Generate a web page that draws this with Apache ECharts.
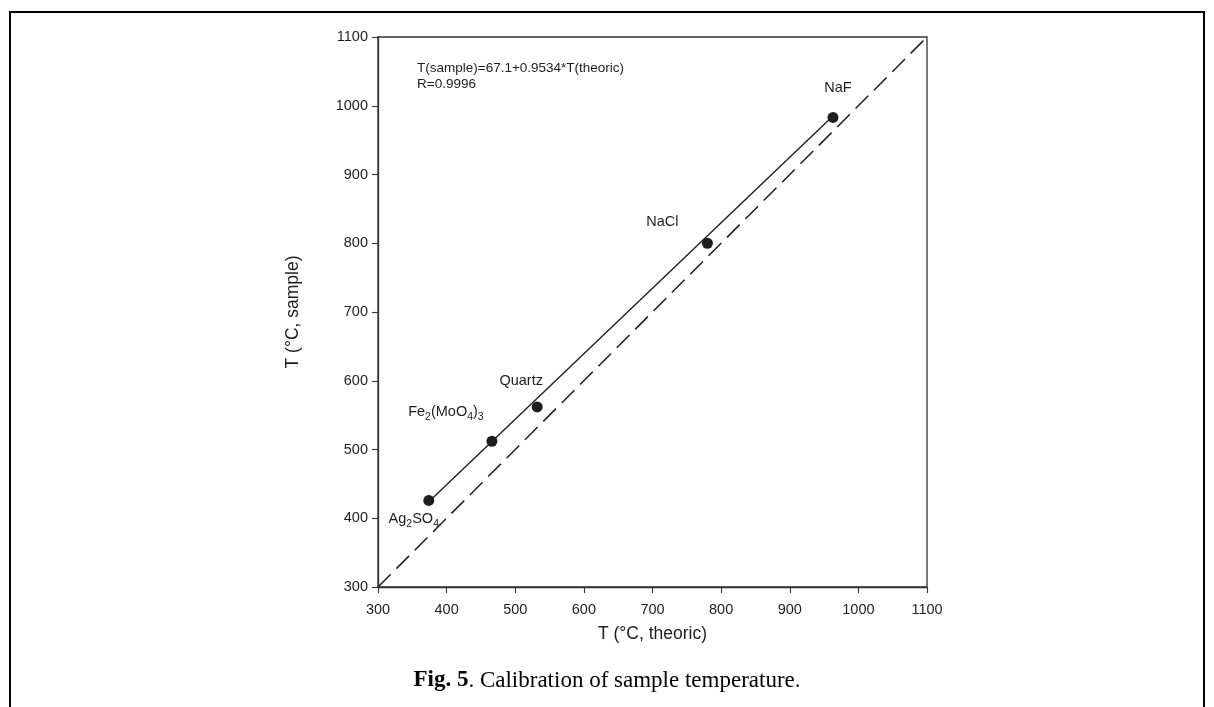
<!DOCTYPE html>
<html>
<head>
<meta charset="utf-8">
<script src="https://cdn.jsdelivr.net/npm/echarts@6/dist/echarts.min.js"></script>
<style>
html,body{margin:0;padding:0;background:#fff;}
#main{width:1214px;height:707px;}
</style>
</head>
<body>
<div id="main"></div>
<script>
// Data
const compounds = ['Ag2SO4', 'Fe2(MoO4)3', 'Quartz', 'NaCl', 'NaF'];
const theoric = [374, 466, 532, 780, 963];
const sample = [426, 512, 562, 800, 983];
const fitX = [374, 963];
const fitY = [424, 985];
const identityX = [300, 1100];
const identityY = [300, 1100];
const xTicks = [300, 400, 500, 600, 700, 800, 900, 1000, 1100];
const yTicks = [300, 400, 500, 600, 700, 800, 900, 1000, 1100];
const equationText = ['T(sample)=67.1+0.9534*T(theoric)', 'R=0.9996'];

const SANS = '"Liberation Sans", Arial, sans-serif';
const SERIF = '"Liberation Serif", "Times New Roman", serif';
const INK = '#1e1e1e';

const labelRich = {
  n: {fontFamily: SANS, fontSize: 14.5, color: INK},
  s: {fontFamily: SANS, fontSize: 10.5, color: INK, verticalAlign: 'bottom', padding: [9, 0, 0, 0]}
};
const labelFormats = {
  'Ag2SO4': '{n|Ag}{s|2}{n|SO}{s|4}',
  'Fe2(MoO4)3': '{n|Fe}{s|2}{n|(MoO}{s|4}{n|)}{s|3}',
  'Quartz': '{n|Quartz}',
  'NaCl': '{n|NaCl}',
  'NaF': '{n|NaF}'
};
const labelOffsets = {
  'Ag2SO4': [-15, 19],
  'Fe2(MoO4)3': [-46, -29],
  'Quartz': [-16, -26],
  'NaCl': [-45, -21],
  'NaF': [5, -29]
};

const chart = echarts.init(document.getElementById('main'));
const axisCommon = {
  type: 'value', min: 300, max: 1100, interval: 100,
  axisLine: {show: true, lineStyle: {color: '#333', width: 1.3}},
  axisTick: {show: true, inside: false, length: 6, lineStyle: {color: '#333', width: 1.1}},
  splitLine: {show: false},
  axisLabel: {color: INK, fontFamily: SANS, fontSize: 14.5, formatter: v => String(v)},
  nameLocation: 'middle',
  nameTextStyle: {color: INK, fontFamily: SANS, fontSize: 17.5}
};

chart.setOption({
  animation: false,
  backgroundColor: '#fff',
  grid: {left: 378, top: 37, right: 287, bottom: 120, show: true, borderColor: '#333', borderWidth: 1.3, backgroundColor: 'transparent'},
  xAxis: Object.assign({}, axisCommon, {
    name: 'T (°C, theoric)', nameGap: 38,
    axisLabel: Object.assign({}, axisCommon.axisLabel, {margin: 15})
  }),
  yAxis: Object.assign({}, axisCommon, {
    name: 'T (°C, sample)', nameGap: 76,
    axisLabel: Object.assign({}, axisCommon.axisLabel, {margin: 10})
  }),
  series: [
    {
      type: 'line', data: identityX.map((x, i) => [x, identityY[i]]),
      symbol: 'none', lineStyle: {color: INK, width: 1.5, type: [18, 8]}, z: 2
    },
    {
      type: 'line', data: fitX.map((x, i) => [x, fitY[i]]),
      symbol: 'none', lineStyle: {color: INK, width: 1.4}, z: 3
    },
    {
      type: 'scatter', symbol: 'circle', symbolSize: 11,
      itemStyle: {color: INK, opacity: 1}, z: 4,
      data: theoric.map((x, i) => ({
        value: [x, sample[i]],
        label: {
          show: true, position: 'inside', color: INK,
          formatter: labelFormats[compounds[i]],
          offset: labelOffsets[compounds[i]],
          rich: labelRich
        }
      }))
    }
  ],
  graphic: [
    {type: 'rect', shape: {x: 10, y: 12, width: 1194, height: 720}, style: {fill: 'none', stroke: '#000', lineWidth: 2}, silent: true},
    {type: 'text', left: 417, top: 60, style: {text: equationText.join('\n'), font: '13.5px "Liberation Sans", Arial', fill: INK, lineHeight: 16}},
    {type: 'text', left: 'center', top: 669, style: {
      text: '{b|Fig. 5}{r|. Calibration of sample temperature.}',
      rich: {
        b: {fontFamily: SERIF, fontWeight: 'bold', fontSize: 23, fill: '#000'},
        r: {fontFamily: SERIF, fontSize: 23, fill: '#000'}
      }
    }}
  ]
});
</script>
</body>
</html>
